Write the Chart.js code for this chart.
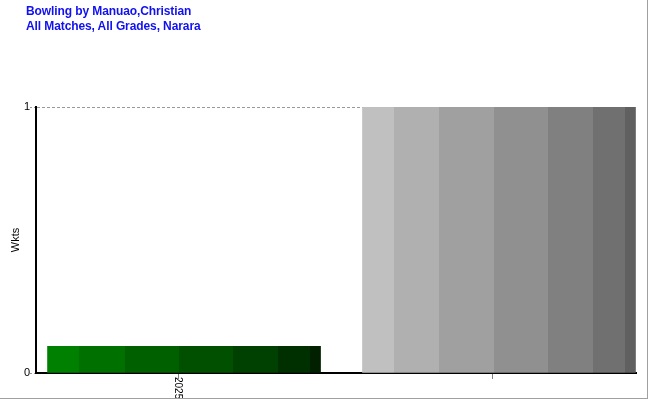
<!DOCTYPE html>
<html>
<head>
<meta charset="utf-8">
<script src="https://cdn.jsdelivr.net/npm/chart.js@4"></script>
<style>
html,body{margin:0;padding:0;background:#fff;}
#wrap{position:relative;width:650px;height:400px;overflow:hidden;}
#c{display:block;}
#title{position:absolute;left:26px;top:4px;font:bold 12px "Liberation Sans",Arial,sans-serif;color:#1010f0;line-height:15px;white-space:nowrap;letter-spacing:-0.1px;}
#frame{position:absolute;left:0;top:0;width:647px;height:398px;border-right:1px solid #a0a0a0;border-bottom:1px solid #a0a0a0;pointer-events:none;}
</style>
</head>
<body>
<div id="wrap">
<canvas id="c" width="650" height="400"></canvas>
<div id="title">Bowling by Manuao,Christian<br>All Matches, All Grades, Narara</div>
<div id="frame"></div>
</div>
<script>
// ---- data ----
const categories = ['2025', ''];
const wickets = [0.1, 1];
const yTickValues = [0, 1];

// ---- styles ----
const BAR_W = 273;
const segStops = [0, 0.1136, 0.282, 0.48, 0.678, 0.846, 0.96, 1];
const palettes = [
  ['#008000', '#007000', '#006000', '#005000', '#004000', '#003000', '#002000'],
  ['#c0c0c0', '#b0b0b0', '#a0a0a0', '#909090', '#808080', '#707070', '#606060']
];
const FONT = '"Liberation Sans", Arial, sans-serif';

function barFill(c) {
  const chart = c.chart;
  const xs = chart.scales && chart.scales.x;
  if (!xs || c.type !== 'data' || !isFinite(xs.getPixelForValue(c.dataIndex))) return palettes[0][0];
  const cx = xs.getPixelForValue(c.dataIndex);
  const g = chart.ctx.createLinearGradient(cx - BAR_W / 2, 0, cx + BAR_W / 2, 0);
  const cols = palettes[c.dataIndex % palettes.length];
  for (let k = 0; k < cols.length; k++) {
    g.addColorStop(segStops[k], cols[k]);
    g.addColorStop(segStops[k + 1], cols[k]);
  }
  return g;
}

const xAxisMarks = {
  id: 'xAxisMarks',
  afterDraw(chart) {
    const ctx = chart.ctx;
    const xs = chart.scales.x;
    const y0 = xs.top;
    ctx.save();
    categories.forEach((lab, i) => {
      const px = Math.round(xs.getPixelForValue(i) - 6.5) + 0.5;
      ctx.strokeStyle = '#808080';
      ctx.lineWidth = 1;
      ctx.beginPath();
      ctx.moveTo(px, y0 + 1);
      ctx.lineTo(px, y0 + 6);
      ctx.stroke();
      if (lab) {
        ctx.save();
        ctx.translate(px - 1, y0 + 4);
        ctx.rotate(Math.PI / 2);
        ctx.font = '10px ' + FONT;
        ctx.fillStyle = '#000';
        ctx.textAlign = 'left';
        ctx.textBaseline = 'middle';
        ctx.fillText(lab, 0, 0);
        ctx.restore();
      }
    });
    ctx.restore();
  }
};

new Chart(document.getElementById('c'), {
  type: 'bar',
  data: {
    datasets: [{
      data: wickets.map((v, i) => ({ x: i, y: v })),
      backgroundColor: barFill,
      borderWidth: 0,
      barThickness: BAR_W
    }]
  },
  options: {
    responsive: false,
    animation: false,
    events: [],
    layout: { padding: { top: 107, right: 14, left: 0, bottom: 0 } },
    plugins: { legend: { display: false }, tooltip: { enabled: false }, title: { display: false } },
    scales: {
      x: {
        type: 'linear',
        offset: false,
        min: -0.47,
        max: 1.435,
        afterFit: s => { s.height = 27; },
        ticks: { display: false },
        grid: { display: false },
        border: { display: true, color: '#000', width: 2 }
      },
      y: {
        min: 0,
        max: 1,
        afterFit: s => { s.width = 36; },
        afterBuildTicks: s => { s.ticks = yTickValues.map(v => ({ value: v })); },
        ticks: { color: '#000', font: { family: FONT, size: 11 }, padding: 0 },
        grid: { color: '#999', lineWidth: 1, tickLength: 6, tickColor: '#999', tickBorderDash: [2, 2] },
        border: { display: true, color: '#000', width: 2, dash: [3, 2] },
        title: { display: true, text: 'Wkts', color: '#000', font: { family: FONT, size: 11 }, padding: { top: 9, bottom: 0 } }
      }
    }
  },
  plugins: [xAxisMarks]
});
</script>
</body>
</html>
